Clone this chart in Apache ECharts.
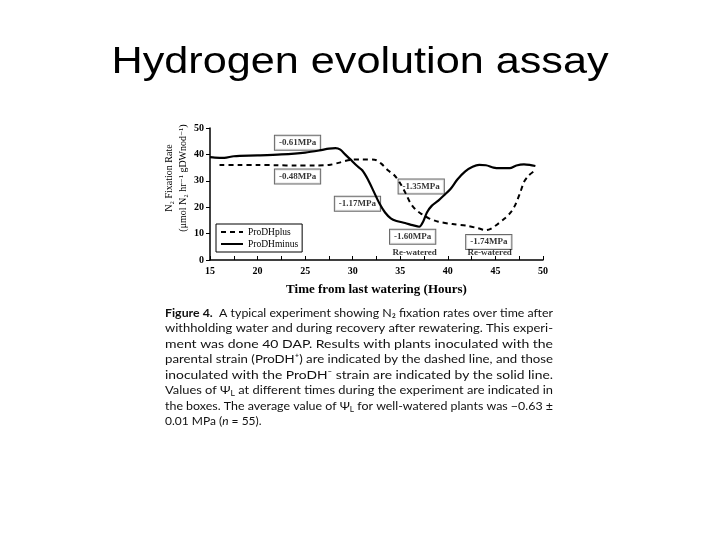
<!DOCTYPE html>
<html><head><meta charset="utf-8">
<script src="https://cdn.jsdelivr.net/npm/echarts@6/dist/echarts.min.js"></script>
<style>html,body{margin:0;padding:0;background:#fff}#c{width:720px;height:540px}</style>
</head><body><div id="c"></div>
<script>
// ---- data ----
const plusX = [16, 18, 20, 22, 24, 26, 27.5, 28.5, 29.3, 30, 31, 32.3, 33, 33.7, 34.4, 35.0, 35.6, 36.0, 36.5, 37.2, 38.0, 39.0, 40.5, 42, 43.2, 44.0, 44.5, 45.2, 46.0, 46.6, 47.1, 47.6, 48.0, 48.5, 49.2];
const plusY = [36.0, 36.0, 36.0, 35.9, 35.8, 35.8, 36.0, 36.8, 37.6, 38.0, 38.1, 38.0, 36.5, 34.0, 32.0, 29.0, 25.0, 22.0, 19.5, 17.5, 15.8, 14.5, 13.6, 13.0, 12.0, 11.3, 11.8, 13.5, 15.8, 18.0, 21.0, 25.5, 29.5, 32.0, 34.0];
const minusX = [15, 15.5, 16.5, 17.5, 20, 22.5, 25, 26.5, 27.5, 28.2, 28.7, 29.2, 29.7, 30.5, 31.0, 31.6, 32.2, 32.8, 33.4, 34.0, 34.6, 35.5, 36.3, 37.0, 37.4, 37.8, 38.3, 39.0, 39.6, 40.3, 41.0, 41.8, 42.6, 43.3, 44.0, 44.8, 45.5, 46.5, 47.2, 48.0, 48.6, 49.2];
const minusY = [39.0, 38.8, 38.7, 39.3, 39.6, 40.0, 40.7, 41.5, 42.2, 42.4, 41.8, 40.0, 38.3, 35.5, 34.0, 30.5, 26.0, 21.5, 18.0, 15.8, 14.8, 14.0, 13.2, 12.6, 14.5, 18.0, 20.5, 22.5, 24.5, 27.0, 30.5, 33.5, 35.3, 36.0, 35.9, 35.0, 34.8, 34.8, 35.8, 36.2, 36.0, 35.6];
const seriesNames = ['ProDHplus', 'ProDHminus'];
const annText = ['-0.61MPa', '-0.48MPa', '-1.17MPa', '-1.35MPa', '-1.60MPa', '-1.74MPa'];
const annX = [24.2, 24.2, 30.5, 37.2, 36.3, 44.3];
const annY = [44.4, 31.6, 21.3, 27.8, 8.8, 6.8];
const waterText = ['Re-watered', 'Re-watered'];
const waterX = [36.5, 44.4];
const waterY = [2.6, 2.6];
const titleText = 'Hydrogen evolution assay';
const xAxisTitle = 'Time from last watering (Hours)';
const yAxisTitle1 = 'N\u2082 Fixation Rate';
const yAxisTitle2 = '(\u03bcmol N\u2082 hr\u207b\u00b9 gDWnod\u207b\u00b9)';
const captionLines = [
  [['b', 'Figure 4.'], ['n', '  A typical experiment showing N\u2082 fixation rates over time after']],
  [['n', 'withholding water and during recovery after rewatering. This experi-']],
  [['n', 'ment was done 40 DAP. Results with plants inoculated with the']],
  [['n', 'parental strain (ProDH\u207a) are indicated by the dashed line, and those']],
  [['n', 'inoculated with the ProDH\u207b strain are indicated by the solid line.']],
  [['n', 'Values of \u03a8'], ['s', 'L'], ['n', ' at different times during the experiment are indicated in']],
  [['n', 'the boxes. The average value of \u03a8'], ['s', 'L'], ['n', ' for well-watered plants was \u22120.63 \u00b1']],
  [['n', '0.01 MPa ('], ['i', 'n'], ['n', ' = 55).']]
];

// ---- rendering ----
const SERIF = '"Liberation Serif", "DejaVu Serif", serif';
const capFonts = {
  n: {fontFamily: 'Lato', fontSize: 12, fontWeight: 'normal', fontStyle: 'normal'},
  b: {fontFamily: 'Lato', fontSize: 12, fontWeight: 'bold', fontStyle: 'normal'},
  s: {fontFamily: 'Lato', fontSize: 8, fontWeight: 'normal', fontStyle: 'normal'},
  i: {fontFamily: 'Lato', fontSize: 12, fontWeight: 'normal', fontStyle: 'italic'}
};
const ctx = document.createElement('canvas').getContext('2d');
function segW(k, t) {
  const f = capFonts[k];
  ctx.font = f.fontStyle + ' ' + f.fontWeight + ' ' + f.fontSize + 'px ' + f.fontFamily;
  return ctx.measureText(t).width;
}
const capLeft = 165, capWidth = 388, capTop = 313, capStep = 15.5;
const captionGraphics = captionLines.map((segs, i) => {
  let w = 0, str = '';
  segs.forEach(([k, t]) => { w += segW(k, t); str += '{' + k + '|' + t + '}'; });
  const last = i === captionLines.length - 1;
  const sx = last ? 1 : capWidth / w;
  return {
    type: 'text', x: capLeft, y: capTop + i * capStep, scaleX: sx, silent: true,
    style: {
      text: str, fill: '#111', verticalAlign: 'middle', align: 'left',
      fontFamily: 'Lato', fontSize: 12,
      rich: {
        n: Object.assign({}, capFonts.n),
        b: Object.assign({}, capFonts.b),
        i: Object.assign({}, capFonts.i),
        s: Object.assign({verticalAlign: 'bottom', padding: [6, 0, 0, 0]}, capFonts.s)
      }
    }
  };
});

const chart = echarts.init(document.getElementById('c'), null, {renderer: 'canvas'});
chart.setOption({
  animation: false,
  backgroundColor: '#fff',
  grid: {left: 210, right: 177, top: 128, bottom: 280},
  legend: {
    data: seriesNames, orient: 'vertical', left: 216, top: 224,
    borderColor: '#000', borderWidth: 1, padding: [3, 4, 3, 4], itemGap: 2,
    itemWidth: 22, itemHeight: 9, itemStyle: {opacity: 0},
    textStyle: {fontFamily: SERIF, fontSize: 9.5, color: '#000'}
  },
  xAxis: {
    type: 'value', min: 15, max: 50, interval: 2.5,
    axisLine: {lineStyle: {color: '#000', width: 1.5}},
    axisTick: {inside: true, length: 4, lineStyle: {color: '#000', width: 1}},
    splitLine: {show: false},
    axisLabel: {
      formatter: v => (v % 5 === 0 ? String(v) : ''),
      fontFamily: SERIF, fontWeight: 'bold', fontSize: 10, color: '#000', margin: 6
    },
    name: xAxisTitle, nameLocation: 'middle', nameGap: 23,
    nameTextStyle: {fontFamily: SERIF, fontWeight: 'bold', fontSize: 13, color: '#000'}
  },
  yAxis: {
    type: 'value', min: 0, max: 50, interval: 10,
    axisLine: {show: true, lineStyle: {color: '#000', width: 1.5}},
    axisTick: {show: true, length: 4, lineStyle: {color: '#000', width: 1}},
    splitLine: {show: false},
    axisLabel: {fontFamily: SERIF, fontWeight: 'bold', fontSize: 10, color: '#000', margin: 6}
  },
  series: [
    {
      name: seriesNames[0], type: 'line', z: 3, symbol: 'none', smooth: 0.3,
      data: plusX.map((x, i) => [x, plusY[i]]),
      lineStyle: {color: '#000', width: 2, type: [5, 4]}, itemStyle: {color: '#000'}
    },
    {
      name: seriesNames[1], type: 'line', z: 3, symbol: 'none', smooth: 0.3,
      data: minusX.map((x, i) => [x, minusY[i]]),
      lineStyle: {color: '#000', width: 2.2}, itemStyle: {color: '#000'}
    },
    {
      type: 'scatter', z: 1, silent: true, symbolSize: 1, itemStyle: {color: 'rgba(0,0,0,0)'},
      data: annText.map((t, i) => ({name: t, value: [annX[i], annY[i]]})),
      label: {
        show: true, position: 'inside', formatter: '{b}',
        fontFamily: SERIF, fontWeight: 'bold', fontSize: 9, color: '#000',
        backgroundColor: '#fff', borderColor: '#444', borderWidth: 1, padding: [3, 4, 2, 4]
      }
    },
    {
      type: 'scatter', z: 1, silent: true, symbolSize: 1, itemStyle: {color: 'rgba(0,0,0,0)'},
      data: waterText.map((t, i) => ({name: t, value: [waterX[i], waterY[i]]})),
      label: {
        show: true, position: 'inside', formatter: '{b}',
        fontFamily: SERIF, fontWeight: 'bold', fontSize: 9, color: '#000'
      }
    }
  ],
  graphic: [
    {
      type: 'text', x: 360, y: 63, scaleX: 1.2, silent: true,
      style: {text: titleText, fontFamily: '"Liberation Sans", Arial, sans-serif', fontSize: 36,
        fill: '#000', align: 'center', verticalAlign: 'middle'}
    },
    {
      type: 'text', x: 169, y: 178, rotation: Math.PI / 2, silent: true,
      style: {text: yAxisTitle1, fontFamily: SERIF, fontSize: 10, fill: '#000', align: 'center', verticalAlign: 'middle'}
    },
    {
      type: 'text', x: 183, y: 178, rotation: Math.PI / 2, silent: true,
      style: {text: yAxisTitle2, fontFamily: SERIF, fontSize: 10, fill: '#000', align: 'center', verticalAlign: 'middle'}
    }
  ].concat(captionGraphics)
});
</script>
</body></html>
